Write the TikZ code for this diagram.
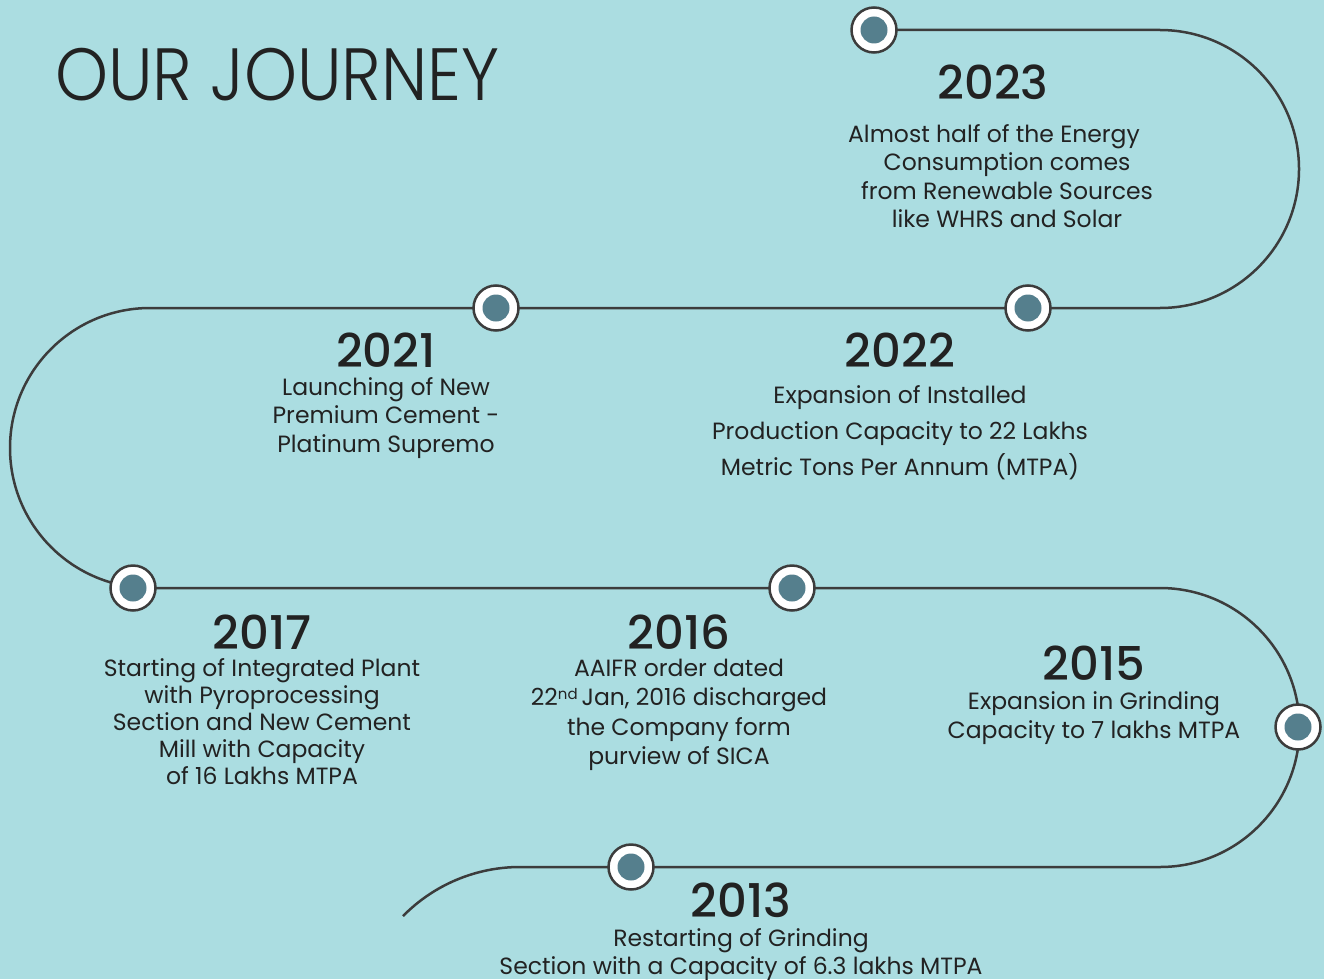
\documentclass[tikz,border=0pt]{standalone}
\usepackage{fontspec}
\setmainfont{Poppins}
\newfontfamily\titlefont[FakeStretch=0.91]{Poppins Light}
\newfontfamily\yearfont{Poppins Medium}
\definecolor{bgblue}{HTML}{ABDDE1}
\definecolor{dotblue}{HTML}{557F8D}
\definecolor{linegray}{HTML}{3C3C3C}
\definecolor{inkgray}{HTML}{222222}
\begin{document}
\begin{tikzpicture}[
                        x=1pt, y=1pt,
                        track/.style={draw=linegray, line width=2.5pt},
                        ring/.style={circle, draw=linegray, fill=white, line width=2.5pt, minimum size=45pt, inner sep=0pt},
                        core/.style={circle, fill=dotblue, minimum size=27pt, inner sep=0pt},
                        year/.style={text=inkgray, font=\yearfont\fontsize{46.5}{46.5}\selectfont, inner sep=0pt},
                        note/.style={text=inkgray, font=\fontsize{23.5}{28.5}\selectfont, align=center, inner sep=0pt, anchor=north}
                    ]
                    \fill [bgblue] (0,0) rectangle (1324,-979);
                    \useasboundingbox (0,0) rectangle (1324,-979);

                    % Stops
                    \coordinate (s2023) at (874,-30);
                    \coordinate (s2022) at (1028,-308);
                    \coordinate (s2021) at (496,-308);
                    \coordinate (s2017) at (133,-588);
                    \coordinate (s2016) at (792,-588);
                    \coordinate (s2015) at (1298,-727);
                    \coordinate (s2013) at (631,-867);

                    % Connections
                    \draw [track] (s2023) -- (1160,-30) arc (90:-90:139) -- (150,-308) arc (90:270:140)
                        -- (1160,-588) arc (90:-90:139.5) -- (520,-867) arc (90:135.5:164) coordinate (tail);

                    % Blocks
                    \foreach \s in {2023,2022,2021,2017,2016,2015,2013} {
                        \node [ring] (r\s) at (s\s) {};
                        \node [core] (c\s) at (s\s) {};
                    }

                    \node [anchor=base west, text=inkgray, inner sep=0pt, font=\titlefont\fontsize{74}{74}\selectfont] (title) at (55,-101) {OUR JOURNEY};

                    \node [year] (y2023) at (993,-82) {2023};
                    \node [note] (t2023) at (1007,-124) {\hspace*{-26pt}Almost half of the Energy\\ Consumption comes\\ from Renewable Sources\\ like WHRS and Solar};

                    \node [year] (y2021) at (386,-350) {2021};
                    \node [note] (t2021) at (386,-377) {Launching of New\\ Premium Cement -\\ Platinum Supremo};

                    \node [year] (y2022) at (900,-350) {2022};
                    \node [note, font=\fontsize{23.5}{36}\selectfont] (t2022) at (900,-385) {Expansion of Installed\\ Production Capacity to 22 Lakhs\\ Metric Tons Per Annum (MTPA)};

                    \node [year] (y2017) at (262,-632) {2017};
                    \node [note, font=\fontsize{23.5}{27}\selectfont] (t2017) at (262,-658) {Starting of Integrated Plant\\ with Pyroprocessing\\ Section and New Cement\\ Mill with Capacity\\ of 16 Lakhs MTPA};

                    \node [year] (y2016) at (679,-632) {2016};
                    \node [note, font=\fontsize{23.5}{29.3}\selectfont] (t2016) at (679,-659) {AAIFR order dated\\ 22{\fontsize{15}{15}\selectfont\raisebox{6pt}{nd}}\,Jan, 2016 discharged\\ the Company form\\ purview of SICA};

                    \node [year] (y2015) at (1094,-663) {2015};
                    \node [note, font=\fontsize{23.5}{29}\selectfont] (t2015) at (1094,-691) {Expansion in Grinding\\ Capacity to 7 lakhs MTPA};

                    \node [year] (y2013) at (741,-900) {2013};
                    \node [note, font=\fontsize{23.5}{28}\selectfont] (t2013) at (741,-928) {Restarting of Grinding\\ Section with a Capacity of 6.3 lakhs MTPA};
                \end{tikzpicture}
\end{document}
